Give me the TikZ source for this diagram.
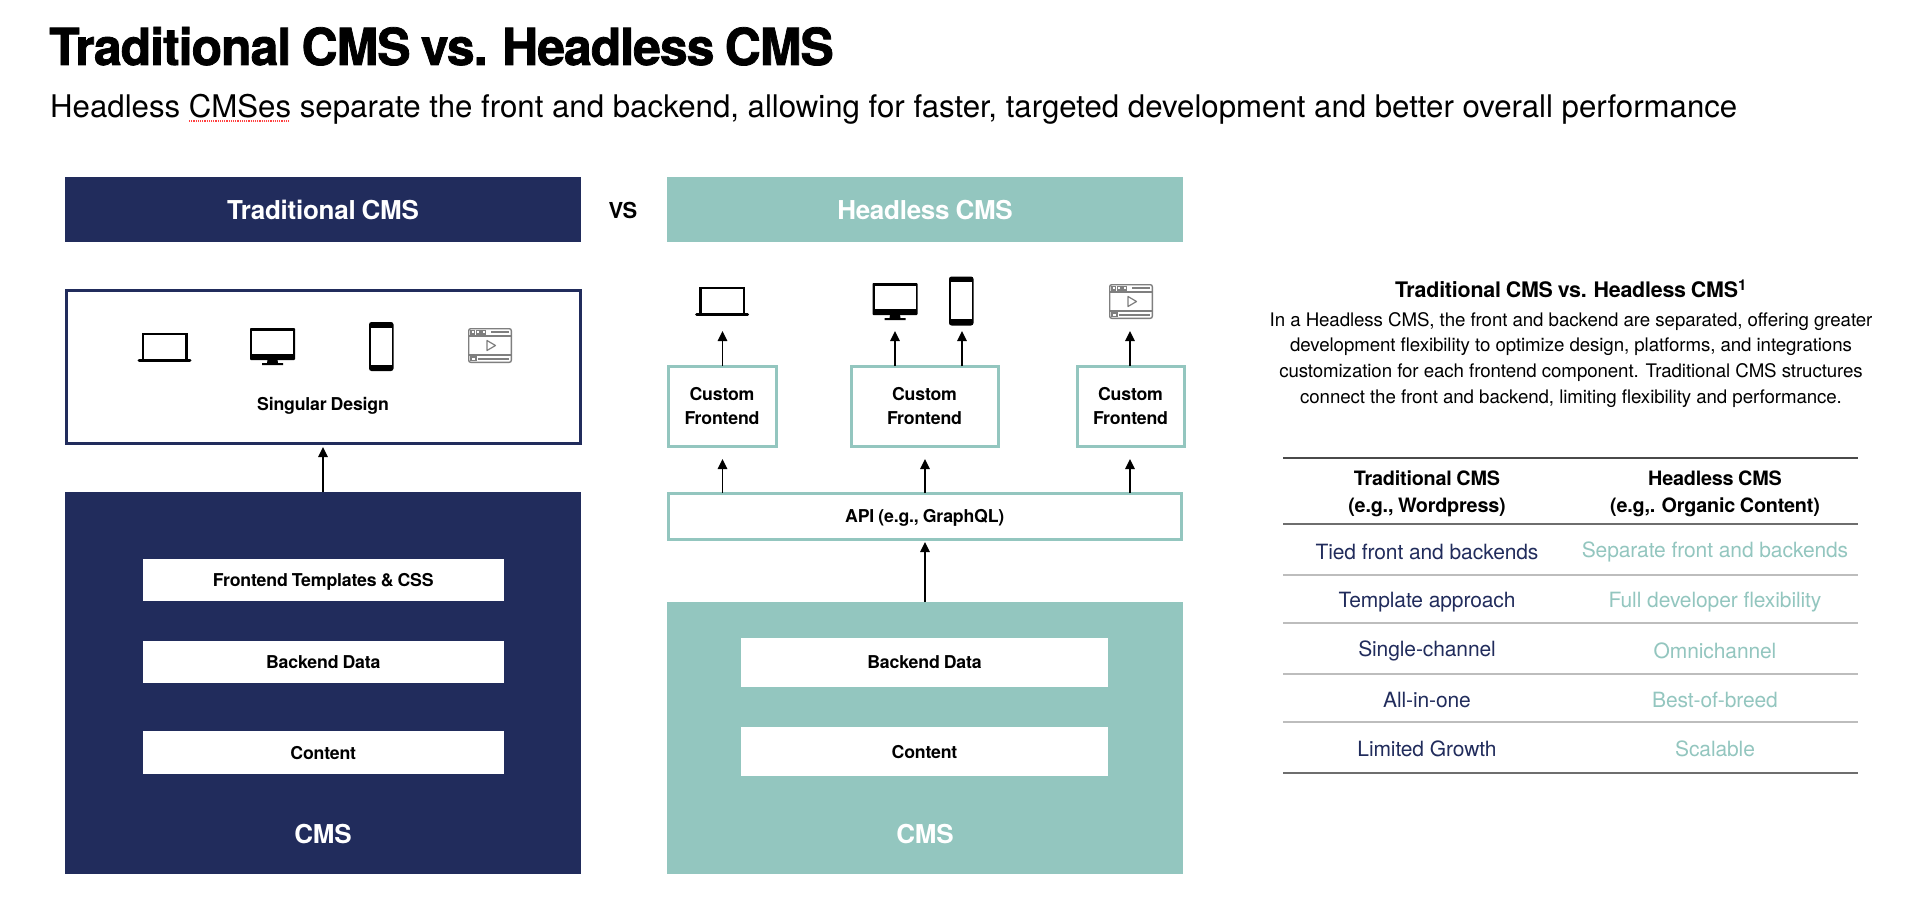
\documentclass[tikz,border=0pt]{standalone}
\usepackage{fontspec}
\usetikzlibrary{arrows.meta}
\setmainfont{TeX Gyre Heros}
\newfontfamily\headfont[LetterSpace=-2,FakeStretch=0.98,FakeBold=1.5,WordSpace=0.8]{TeX Gyre Heros Bold}
\newfontfamily\medfont[LetterSpace=-1.0,WordSpace=0.85]{TeX Gyre Heros Bold}
\newfontfamily\bodyfont[LetterSpace=-0.5]{TeX Gyre Heros}
\newfontfamily\leadfont{TeX Gyre Heros}
\definecolor{navy}{HTML}{212C5C}
\definecolor{teal}{HTML}{93C6BF}
\definecolor{iconGray}{HTML}{7F7F7F}
\definecolor{ruleGray}{HTML}{BDBDBD}
\definecolor{ruleDark}{HTML}{4A4A4A}

% Box given by its two corners
\newcommand{\cornerbox}[7]{%
  \node[#2, minimum width={#5-#3}, minimum height={#6-#4}] (#1) at ({(#3+#5)/2},{(#4+#6)/2}) {#7};}

\tikzset{
  x=1pt, y=-1pt,
  capline/.style={text height=13pt, text depth=0pt},
  plainbox/.style={inner sep=0pt, outer sep=0pt, align=center},
  navybox/.style={plainbox, fill=navy, text=white},
  tealbox/.style={plainbox, fill=teal, text=white},
  navyframe/.style={plainbox, draw=navy, line width=3pt, fill=white},
  tealframe/.style={plainbox, draw=teal, line width=3pt, fill=white},
  whitebar/.style={plainbox, capline, fill=white, text=black, font=\medfont\fontsize{17.7}{22}\selectfont},
  boxlabel/.style={font=\medfont\fontsize{17.7}{23.5}\selectfont},
  bandlabel/.style={font=\medfont\fontsize{26}{30}\selectfont},
  caption/.style={inner sep=0pt, align=center, capline, font=\medfont\fontsize{17.7}{22}\selectfont},
  tablehead/.style={inner sep=0pt, align=center, font=\medfont\fontsize{19.8}{27}\selectfont},
  tablecell/.style={inner sep=0pt, font=\bodyfont\fontsize{21}{24}\selectfont},
  flow/.style={line width=1.5pt, black, -{Triangle[length=10pt,width=9.5pt]}},
  laptop/.pic={
    \draw[black, line width=2.2pt] (5.5,27) -- (5.5,1.2) -- (49,1.2) -- (49,27);
    \draw[black, line width=3pt, line cap=round] (1.5,27.8) -- (52.5,27.8);
  },
  monitor/.pic={
    \fill[black, rounded corners=0.8pt] (0,0) rectangle (45,32);
    \fill[white] (2,2.5) rectangle (43,26);
    \fill[black] (17.5,32) -- (27.5,32) -- (28,35) -- (33,35) -- (33,37) -- (12,37) -- (12,35) -- (17,35) -- cycle;
  },
  phone/.pic={
    \fill[black, rounded corners=2.5pt] (0,0) rectangle (24.5,49);
    \fill[white] (1.6,5.5) rectangle (22.9,42.5);
  },
  browser/.pic={
    \draw[iconGray, line width=1.4pt, rounded corners=2pt] (0.7,0.7) rectangle (43.3,34.3);
    \draw[iconGray, line width=1.2pt] (0.7,8) -- (43.3,8) (0.7,27) -- (43.3,27);
    \draw[iconGray, line width=1.1pt] (3,2.5) rectangle (6.5,6) (8.5,2.5) rectangle (12,6) (14,2.5) rectangle (17.5,6);
    \draw[iconGray, line width=1.1pt] (23,4) -- (41,4);
    \draw[iconGray, line width=1.1pt] (3,29) rectangle (8,32.5) (10,31) -- (41,31);
    \draw[iconGray, line width=1.2pt, line join=round] (19,12.5) -- (27.5,17.5) -- (19,22.5) -- cycle;
  },
}

\begin{document}
\begin{tikzpicture}
\useasboundingbox (0,0) rectangle (1926,912);
\fill[white] (0,0) rectangle (1926,912);

% Heading
\node[inner sep=0pt, anchor=base west, font=\headfont\fontsize{51}{56}\selectfont] (title) at (49,65) {Traditional CMS vs. Headless CMS};
\node[inner sep=0pt, anchor=base west, font=\leadfont\fontsize{31.2}{36}\selectfont] (subtitle) at (50,118) {Headless CMSes separate the front and backend, allowing for faster, targeted development and better overall performance};
\draw[red!75!white, line width=1.2pt, densely dotted] (189,121) -- (290,121);

% Column headers
\cornerbox{headT}{navybox, capline, text height=19pt, font=\medfont\fontsize{26}{30}\selectfont}{65}{177}{581}{242}{Traditional CMS}
\cornerbox{headH}{tealbox, capline, text height=19pt, font=\medfont\fontsize{26}{30}\selectfont}{667}{177}{1183}{242}{Headless CMS}
\node[inner sep=0pt, font=\medfont\fontsize{22}{26}\selectfont] (versus) at (623,210) {VS};

% Traditional CMS stack
\cornerbox{design}{navyframe}{66.5}{290.5}{580}{443.5}{}
\node[caption] (designLabel) at (323,404) {Singular Design};
\pic at (137.5,333) {laptop};
\pic at (250,328) {monitor};
\pic at (369,322) {phone};
\pic at (468,328) {browser};
\cornerbox{cmsT}{navybox}{65}{492}{581}{874}{}
\cornerbox{tFront}{whitebar}{143}{559}{503.5}{601}{Frontend Templates \& CSS}
\cornerbox{tBack}{whitebar}{143}{641}{503.5}{683}{Backend Data}
\cornerbox{tCont}{whitebar}{143}{731}{503.5}{774}{Content}
\node[inner sep=0pt, text=white, bandlabel] (cmsTLabel) at (323,834) {CMS};
\coordinate (designTip) at (323,447);
\draw[flow] (designTip |- cmsT.north) -- (designTip);

% Headless CMS stack
\pic at (695,287) {laptop};
\pic at (872.5,283) {monitor};
\pic at (949,276.5) {phone};
\pic at (1109,284) {browser};
\cornerbox{feA}{tealframe, boxlabel}{668}{366}{776}{446}{Custom\\Frontend}
\cornerbox{feB}{tealframe, boxlabel}{851}{366}{998}{446}{Custom\\Frontend}
\cornerbox{feC}{tealframe, boxlabel}{1077}{366}{1184}{446}{Custom\\Frontend}
\cornerbox{api}{tealframe, capline, font=\medfont\fontsize{17.7}{22}\selectfont}{668}{493}{1181.5}{539}{API (e.g., GraphQL)}
\cornerbox{cmsH}{tealbox}{667}{602}{1183}{874}{}
\cornerbox{hBack}{whitebar}{741}{637.5}{1108}{687}{Backend Data}
\cornerbox{hCont}{whitebar}{741}{727}{1108}{776}{Content}
\node[inner sep=0pt, text=white, bandlabel] (cmsHLabel) at (925,834) {CMS};

% Arrow heads leading out of the frontends and the API
\coordinate (outA) at (722.5,331);
\coordinate (outB) at (895,331);
\coordinate (outC) at (962,331);
\coordinate (outD) at (1130,331);
\coordinate (inA) at (722.5,459);
\coordinate (inB) at (925,459);
\coordinate (inC) at (1130,459);
\coordinate (apiTip) at (925,542);
\draw[flow] (outA |- feA.north) -- (outA);
\draw[flow] (outB |- feB.north) -- (outB);
\draw[flow] (outC |- feB.north) -- (outC);
\draw[flow] (outD |- feC.north) -- (outD);
\draw[flow] (inA |- api.north) -- (inA);
\draw[flow] (inB |- api.north) -- (inB);
\draw[flow] (inC |- api.north) -- (inC);
\draw[flow] (apiTip |- cmsH.north) -- (apiTip);

% Explanatory text
\node[inner sep=0pt, font=\medfont\fontsize{21.4}{24}\selectfont] (sideTitle) at (1571,289) {Traditional CMS vs. Headless CMS\textsuperscript{1}};
\node[inner sep=0pt, align=center, anchor=north, font=\bodyfont\fontsize{18.7}{25.7}\selectfont] (sideText) at (1571,312) {In a Headless CMS, the front and backend are separated, offering greater\\development flexibility to optimize design, platforms, and integrations\\customization for each frontend component. Traditional CMS structures\\connect the front and backend, limiting flexibility and performance.};

% Comparison table
\coordinate (ruleL) at (1283,0);
\coordinate (ruleR) at (1858,0);
\draw[ruleDark, line width=1.5pt] (ruleL |- 0,458) -- (ruleR |- 0,458);
\draw[ruleDark!80!white, line width=1.5pt] (ruleL |- 0,524) -- (ruleR |- 0,524);
\draw[ruleGray, line width=1.5pt] (ruleL |- 0,575) -- (ruleR |- 0,575);
\draw[ruleGray, line width=1.5pt] (ruleL |- 0,623) -- (ruleR |- 0,623);
\draw[ruleGray, line width=1.5pt] (ruleL |- 0,674) -- (ruleR |- 0,674);
\draw[ruleGray, line width=1.5pt] (ruleL |- 0,722) -- (ruleR |- 0,722);
\draw[ruleDark!80!white, line width=1.5pt] (ruleL |- 0,773) -- (ruleR |- 0,773);

\node[tablehead] (thT) at (1427,494) {Traditional CMS\\(e.g., Wordpress)};
\node[tablehead] (thH) at (1715,494) {Headless CMS\\(e.g,. Organic Content)};

\node[tablecell, text=navy] (c1T) at (1427,552) {Tied front and backends};
\node[tablecell, text=teal] (c1H) at (1715,552) {Separate front and backends};
\node[tablecell, text=navy] (c2T) at (1427,602) {Template approach};
\node[tablecell, text=teal] (c2H) at (1715,602) {Full developer flexibility};
\node[tablecell, text=navy] (c3T) at (1427,651) {Single-channel};
\node[tablecell, text=teal] (c3H) at (1715,651) {Omnichannel};
\node[tablecell, text=navy] (c4T) at (1427,700) {All-in-one};
\node[tablecell, text=teal] (c4H) at (1715,700) {Best-of-breed};
\node[tablecell, text=navy] (c5T) at (1427,749) {Limited Growth};
\node[tablecell, text=teal] (c5H) at (1715,749) {Scalable};
\end{tikzpicture}
\end{document}
